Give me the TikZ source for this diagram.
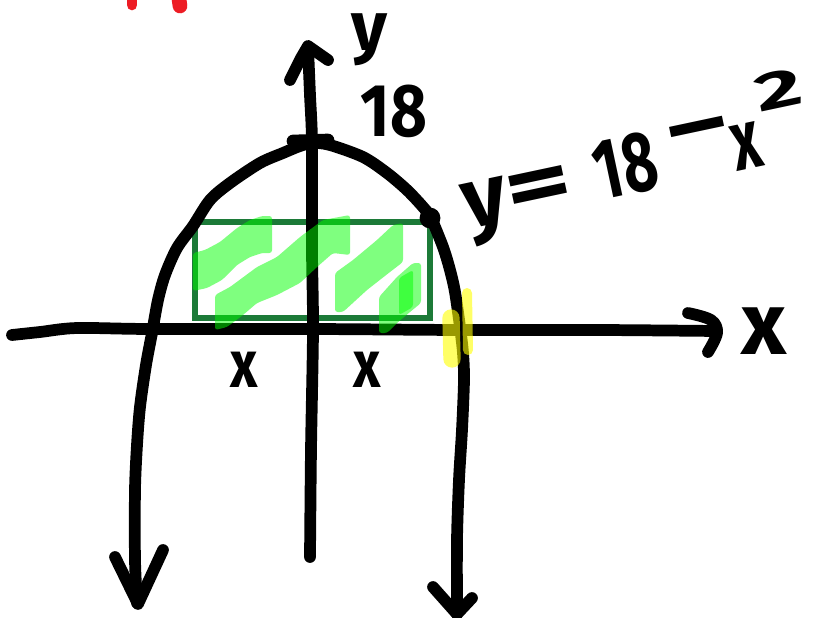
\documentclass[tikz,border=0pt]{standalone}
\usepackage{fontspec}
\setmainfont{Fira Sans}
\definecolor{rectgreen}{RGB}{28,122,56}
\definecolor{hlgreen}{RGB}{0,255,0}
\definecolor{hlyellow}{RGB}{255,255,0}
\definecolor{inkred}{RGB}{237,28,36}
\tikzset{
  ink/.style={draw=black, line width=8.8pt, line cap=round, line join=round},
  rectink/.style={draw=rectgreen, line width=5.2pt},
  hl/.style={fill=hlgreen, fill opacity=0.5, draw=none, rounded corners=2pt},
  yl/.style={draw=hlyellow, draw opacity=0.6, line cap=round},
  lbl/.style={inner sep=0pt, outer sep=0pt, text=black, font=\bfseries},
}
\newcommand{\fsz}[1]{\fontsize{#1}{#1}\selectfont}
\begin{document}
\begin{tikzpicture}[x=0.75pt,y=-0.75pt]
\useasboundingbox (0,0) rectangle (815,618);
% red marks at top
\draw[inkred, line width=8pt, line cap=round] (132,-8) -- (132,5);
\draw[inkred, line width=11pt, line cap=round] (178,-8) -- (180,6);
% rectangle
\draw[rectink] (195,222) rectangle (430,318);
% x-axis
\draw[ink] plot[smooth, tension=0.5] coordinates {(12,335) (40,332) (77,328) (150,329) (313,329) (460,330) (600,330) (716,331)};
\draw[ink] plot[smooth, tension=0.6] coordinates {(688,313) (711,320) (717,333) (708,352)};
% y-axis
\draw[ink] plot[smooth, tension=0.5] coordinates {(310,557) (311,450) (313,330) (312,250) (312,143) (310,95) (308,47)};
\draw[ink] (290,80) -- (301,58) -- (308,46) -- (328,60);
% parabola
\draw[ink] plot[smooth, tension=0.5] coordinates {(137,603) (135,560) (135,490) (137,445) (140,407) (146,365) (152,333) (158,300) (165,275) (177,248) (193,226) (210,200) (230,183) (260,163) (283,153) (300,146) (313,143) (330,145) (363,157) (387,173) (407,190) (423,207) (431,218) (443,247) (450,270) (455,292) (460,327) (463,353) (464,380) (462,430) (459,480) (457,540) (457,614)};
\draw[ink, line width=9.5pt] (293,141) -- (328,140);
\draw[ink] (115,557) -- (138,604) -- (163,550);
\draw[ink] (433,587) -- (457,614) -- (472,598);
\fill[black] (430,218) circle[radius=7.8pt];
% labels
\node[lbl, font=\bfseries\fsz{52pt}] (ylab) at (369,40) {y};
\node[lbl, font=\bfseries\fsz{56pt}] (ylab18) at (394,111) {\scalebox{0.85}[1]{18}};
\node[lbl, font=\bfseries\fsz{66pt}] (xlab) at (764,331) {x};
\node[lbl, font=\bfseries\fsz{50pt}] (xleft) at (244,370) {\scalebox{0.8}[1]{x}};
\node[lbl, font=\bfseries\fsz{50pt}] (xright) at (367,370) {\scalebox{0.8}[1]{x}};
% equation y = 18 - x^2
\node[lbl, rotate=12, anchor=base west, font=\bfseries\fsz{64pt}] (eq) at (468,229)
  {y\scalebox{1.5}[1]{=}\kern19pt\scalebox{0.7}[1]{18}\kern10pt\raisebox{18pt}{\scalebox{1.5}[1]{−}}\kern-2pt\scalebox{0.65}[1]{x}\kern4pt\raisebox{40pt}{\fsz{40pt}\scalebox{1.7}[1]{2}}};
% green highlighter strokes
\fill[hl] (193,253) -- (205,250) -- (220,242) -- (237,228) -- (250,220) -- (262,216) -- (272,216) -- (272,253) -- (262,253) -- (250,257) -- (237,265) -- (222,280) -- (207,288) -- (193,291) -- cycle;
\fill[hl] (215,295) -- (230,287) -- (257,267) -- (277,257) -- (300,237) -- (323,220) -- (350,215) -- (350,255) -- (333,253) -- (317,267) -- (300,283) -- (277,295) -- (257,303) -- (243,315) -- (227,327) -- (215,330) -- cycle;
\fill[hl] (335,273) -- (353,260) -- (377,240) -- (393,225) -- (403,223) -- (403,262) -- (390,272) -- (367,290) -- (343,312) -- (335,312) -- cycle;
\fill[hl] (379,297) -- (397,277) -- (413,263) -- (421,263) -- (421,303) -- (410,312) -- (397,323) -- (387,333) -- (379,333) -- cycle;
\fill[hl] (399,278) -- (413,270) -- (413,307) -- (399,315) -- cycle;
% yellow highlighter
\draw[yl, line width=13pt] (451,318) -- (452,359);
\draw[yl, line width=7.5pt] (467,293) -- (468,350);
\end{tikzpicture}
\end{document}
